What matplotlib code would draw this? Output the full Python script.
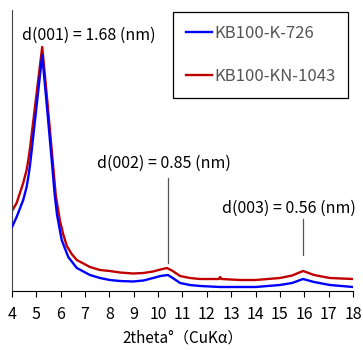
import matplotlib
matplotlib.use("Agg")
import matplotlib.pyplot as plt

plt.rcParams['font.family'] = ['Noto Sans CJK JP', 'DejaVu Sans']

# Data (y in arbitrary intensity units)
x_red = [4.0, 4.19, 4.46, 4.60, 4.67, 4.74, 5.24, 5.45, 5.63, 5.80, 5.97, 6.10, 6.25, 6.45, 6.66,
         7.2, 7.61, 8.02, 8.43, 8.97, 9.4, 9.79, 10.1, 10.36, 10.6, 10.9, 11.3,
         11.72, 12.5, 12.54, 12.6, 13.36, 14.0, 15.0, 15.5, 15.95, 16.4, 17.05, 18.0]
y_red = [80, 88, 108, 121, 131, 143, 244, 190, 141, 95, 70, 57, 45, 37, 31,
         24, 21, 20, 18.5, 17.5, 18, 19.5, 21.5, 23, 20, 15, 13,
         12, 12, 14, 12, 11, 11, 13, 15.5, 20, 16, 13, 12]
x_blue = [4.0, 4.19, 4.46, 4.60, 4.67, 4.74, 4.81, 5.24, 5.45, 5.63, 5.75, 5.85, 6.04, 6.31, 6.66,
          7.2, 7.61, 8.02, 8.43, 8.97, 9.4, 9.79, 10.1, 10.4, 10.6, 10.9, 11.3,
          11.72, 12.54, 13.36, 14.0, 15.0, 15.5, 15.95, 16.4, 17.05, 18.0]
y_blue = [64, 74, 91, 104, 114, 126, 141, 236, 180, 131, 97, 76, 51, 34, 23,
          16, 13, 11, 10, 9.5, 10.5, 13, 15, 16, 13, 8, 6,
          5, 4, 4, 4, 6, 8, 12, 9, 6, 4]

series_labels = ["KB100-K-726", "KB100-KN-1043"]
annot_texts = ["d(001) = 1.68 (nm)", "d(002) = 0.85 (nm)", "d(003) = 0.56 (nm)"]
xticks = list(range(4, 19))

fig = plt.figure(figsize=(3.63, 3.5), dpi=100)
ax = fig.add_axes([12/363, 59/350, 341/363, 281/350])

ax.plot(x_blue, y_blue, color="#0000FF", lw=1.7, label=series_labels[0], zorder=3,
        solid_joinstyle='round')
ax.plot(x_red, y_red, color="#C00000", lw=1.7, label=series_labels[1], zorder=2,
        solid_joinstyle='round')

ax.set_xlim(4, 18)
ax.set_ylim(0, 281)
ax.set_xticks(xticks)
ax.set_xticklabels([str(t) for t in xticks], fontsize=11.5)
ax.set_yticks([])
ax.tick_params(axis='x', direction='out', length=4.5, width=0.8, pad=6)
for s in ['top', 'right']:
    ax.spines[s].set_visible(False)
ax.spines['left'].set_color('#444444')
ax.spines['bottom'].set_color('black')
ax.set_xlabel("2theta°（CuKα）", fontsize=11, labelpad=5)

# annotations
ax.text(4.4, 256, annot_texts[0], fontsize=11.5, va='center', ha='left')
ax.text(7.5, 128, annot_texts[1], fontsize=11.5, va='center', ha='left')
ax.plot([10.4, 10.4], [28, 113], color='#555555', lw=0.9)
ax.text(12.63, 83, annot_texts[2], fontsize=11.5, va='center', ha='left', clip_on=False)
ax.plot([15.95, 15.95], [36, 72], color='#555555', lw=0.9)

leg = ax.legend(loc='upper left', bbox_to_anchor=(173/363, 1-12/350),
                bbox_transform=fig.transFigure, borderaxespad=0,
                fancybox=False, edgecolor='black', framealpha=1,
                fontsize=12, handlelength=1.6, handletextpad=0.15,
                labelspacing=1.6, borderpad=0.75)
leg.get_frame().set_linewidth(0.9)
for t in leg.get_texts():
    t.set_color('#555555')

fig.savefig("out.png", dpi=100)
